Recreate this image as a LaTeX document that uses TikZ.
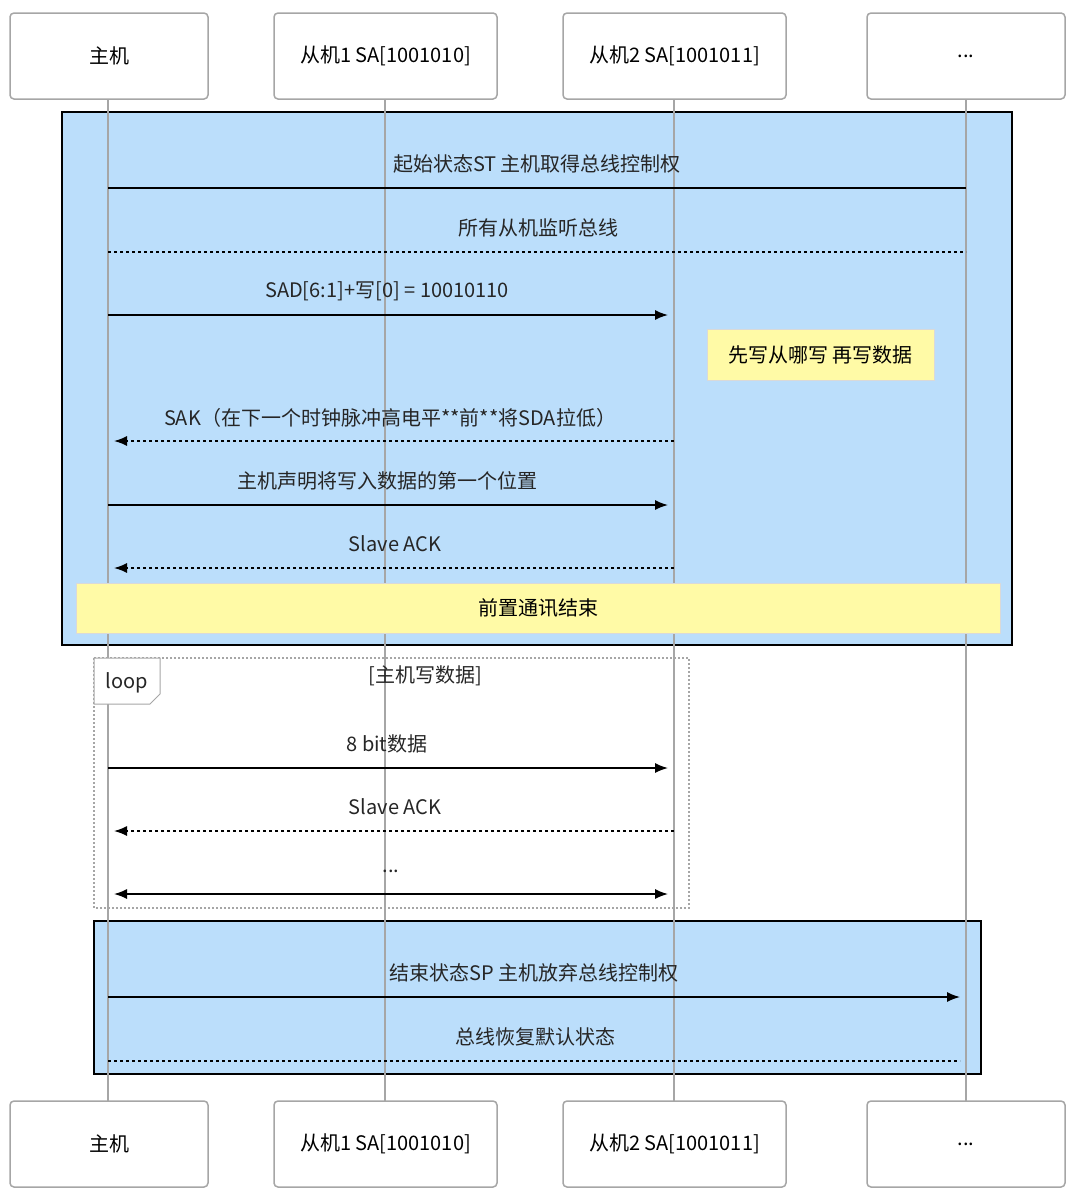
\documentclass[tikz,border=0pt]{standalone}
\usepackage{fontspec}
\setmainfont{Noto Sans CJK SC}
\usetikzlibrary{arrows.meta}
\tikzset{
  actor/.style={draw=black!35, line width=1.5pt, rounded corners=4pt, fill=white, minimum width=#1, minimum height=86pt, font=\fontsize{20}{23}\selectfont},
  life/.style={draw=black!35, line width=1.5pt},
  msg/.style={line width=1.5pt, -{Latex[length=13pt,width=10pt]}},
  reply/.style={line width=1.5pt, dash pattern=on 3pt off 3pt, -{Latex[length=13pt,width=10pt]}},
  lbl/.style={font=\fontsize{20}{23}\selectfont, text=black!85},
  note/.style={draw=black!15, fill=yellow!35, font=\fontsize{20}{23}\selectfont},
  group/.style={draw=black, line width=2pt},
}
\begin{document}
\begin{tikzpicture}[x=1pt,y=-1pt]
\useasboundingbox (0,0) rectangle (1080,1197);
\definecolor{grpblue}{HTML}{BBDEFB}
% groups
\draw[group, fill=grpblue] (62,112) rectangle (1012,645);
\draw[group, fill=grpblue] (94,921) rectangle (981,1074);
\draw[draw=black!35, line width=1.5pt, dash pattern=on 2pt off 2pt] (94,658) rectangle (689,908);
% lifelines
\foreach \n/\x in {m/108, a/385, b/674, c/966} {
  \coordinate (\n top) at (\x,99);
  \coordinate (\n bot) at (\x,1101);
  \draw[life] (\n top) -- (\n bot);
}
% actors
\foreach \y/\p in {56/t, 1144/b} {
  \node[actor=198pt] (m\p) at (109,\y) {主机};
  \node[actor=223pt] (a\p) at (385.5,\y) {从机1 SA[1001010]};
  \node[actor=223pt] (b\p) at (674.5,\y) {从机2 SA[1001011]};
  \node[actor=198pt] (c\p) at (966,\y) {...};
}
% loop tab
\draw[draw=black!35, fill=white, line width=1pt] (94,658) -- (160,658) -- (160,694) -- (150,704) -- (94,704) -- cycle;
\node[lbl] (looplbl) at (127,683) {loop};
\node[lbl] (cond) at (425,676) {[主机写数据]};
% messages
\coordinate (m1) at (108,188); \coordinate (c1) at (966,188);
\draw[line width=1.5pt] (m1) -- (c1);
\node[lbl] (t1) at (537,164) {起始状态ST 主机取得总线控制权};
\coordinate (m2) at (108,252); \coordinate (c2) at (966,252);
\draw[line width=1.5pt, dash pattern=on 3pt off 3pt] (m2) -- (c2);
\node[lbl] (t2) at (538,228) {所有从机监听总线};
\coordinate (m3) at (108,315); \coordinate (b3) at (668,315);
\draw[msg] (m3) -- (b3);
\node[lbl] (t3) at (387,291) {SAD[6:1]+写[0] = 10010110};
\node[note, minimum width=227pt, minimum height=51pt] (n1) at (820.5,354.5) {先写从哪写 再写数据};
\coordinate (m4) at (114,441); \coordinate (b4) at (674,441);
\draw[reply] (b4) -- (m4);
\node[lbl] (t4) at (390,418) {SAK（在下一个时钟脉冲高电平**前**将SDA拉低）};
\coordinate (m5) at (108,505); \coordinate (b5) at (668,505);
\draw[msg] (m5) -- (b5);
\node[lbl] (t5) at (387,481) {主机声明将写入数据的第一个位置};
\coordinate (m6) at (114,568); \coordinate (b6) at (674,568);
\draw[reply] (b6) -- (m6);
\node[lbl] (t6) at (395,544) {Slave ACK};
\node[note, minimum width=924pt, minimum height=50pt] (n2) at (538,608) {前置通讯结束};
\coordinate (m7) at (108,768); \coordinate (b7) at (668,768);
\draw[msg] (m7) -- (b7);
\node[lbl] (t7) at (387,744) {8 bit数据};
\coordinate (m8) at (114,831); \coordinate (b8) at (674,831);
\draw[reply] (b8) -- (m8);
\node[lbl] (t8) at (395,807) {Slave ACK};
\coordinate (m9) at (114,894); \coordinate (b9) at (668,894);
\draw[msg, {Latex[length=13pt,width=10pt]}-{Latex[length=13pt,width=10pt]}] (m9) -- (b9);
\node[lbl] (t9) at (391,871) {...};
\coordinate (m10) at (108,997); \coordinate (c10) at (960,997);
\draw[msg] (m10) -- (c10);
\node[lbl] (t10) at (534,973) {结束状态SP 主机放弃总线控制权};
\coordinate (m11) at (108,1061); \coordinate (c11) at (960,1061);
\draw[line width=1.5pt, dash pattern=on 3pt off 3pt] (m11) -- (c11);
\node[lbl] (t11) at (535,1037) {总线恢复默认状态};
\end{tikzpicture}
\end{document}
